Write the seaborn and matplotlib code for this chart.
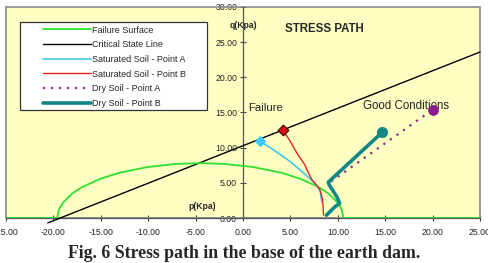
import matplotlib
matplotlib.use("Agg")
import matplotlib.pyplot as plt
import seaborn as sns
from matplotlib.patches import Rectangle

sns.set_style("white")
plt.rcParams["font.family"] = ["Liberation Sans", "DejaVu Sans"]

# failure surface
fail_p = [-25.0, -19.6, -19.4, -19.0, -18.0, -17.0, -15.0, -13.0, -10.0, -7.0, -4.5,
          -2.0, 1.0, 4.0, 6.0, 8.0, 9.0, 10.0, 10.4, 10.6, 25.0]
fail_q = [0.0, 0.0, 1.27, 2.18, 3.49, 4.38, 5.60, 6.45, 7.26, 7.69, 7.80,
          7.69, 7.26, 6.45, 5.60, 4.38, 3.49, 2.18, 1.27, 0.0, 0.0]

# critical state line
csl_p = [-20.6, 25.0]
csl_q = [-0.7, 23.6]

# saturated soil
satA_p = [1.8, 3.0, 4.9, 6.4, 7.2, 7.8, 8.15, 8.3]
satA_q = [10.9, 9.9, 8.1, 6.4, 5.4, 4.6, 3.8, 2.3]
satB_p = [4.2, 4.9, 5.7, 6.5, 7.05, 7.3, 8.1, 8.4, 8.5]
satB_q = [12.5, 11.1, 9.2, 7.6, 6.0, 5.4, 4.1, 2.6, 0.4]

# dry soil
dryA_p = [9.3, 20.0]
dryA_q = [5.2, 15.4]
dryB_p = [8.8, 9.7, 10.2, 9.9, 9.1, 9.0, 14.7]
dryB_q = [0.4, 1.6, 2.1, 3.0, 4.7, 5.1, 12.2]

ticks = [-25, -20, -15, -10, -5, 0, 5, 10, 15, 20, 25]
yticks = [0, 5, 10, 15, 20, 25, 30]

fig = plt.figure(figsize=(4.89, 2.63), dpi=100)
ax = fig.add_axes([0.0123, 0.1711, 0.9693, 0.8023])
ax.set_facecolor("#FFFFC4")

sns.lineplot(x=fail_p, y=fail_q, sort=False, estimator=None, color="#2EE02E", lw=1.3,
             label="Failure Surface", ax=ax, zorder=4)
sns.lineplot(x=csl_p, y=csl_q, sort=False, estimator=None, color="black", lw=1.0,
             label="Critical State Line", ax=ax, zorder=3)
ax.lines[-1].set_clip_on(False)
sns.lineplot(x=satA_p, y=satA_q, sort=False, estimator=None, color="#3CC8EE", lw=1.2,
             label="Saturated Soil - Point A", ax=ax, zorder=5)
sns.lineplot(x=satB_p, y=satB_q, sort=False, estimator=None, color="#E8231E", lw=1.0,
             label="Saturated Soil - Point B", ax=ax, zorder=5)
sns.lineplot(x=dryA_p, y=dryA_q, sort=False, estimator=None, color="#8E2A90", lw=1.6,
             ls=(0, (1, 2.6)), label="Dry Soil - Point A", ax=ax, zorder=5)
sns.lineplot(x=dryB_p, y=dryB_q, sort=False, estimator=None, color="#138686", lw=2.6,
             label="Dry Soil - Point B", ax=ax, zorder=6)

# end markers
sns.scatterplot(x=[satA_p[0]], y=[satA_q[0]], marker="D", s=30, color="#3CC8F8",
                edgecolor="#3CC8F8", ax=ax, zorder=7, legend=False)
sns.scatterplot(x=[satB_p[0]], y=[satB_q[0]], marker="D", s=30, color="#D81010",
                edgecolor="#400000", linewidth=0.8, ax=ax, zorder=7, legend=False)
sns.scatterplot(x=[dryB_p[-1]], y=[dryB_q[-1]], marker="o", s=55, color="#138686",
                edgecolor="#138686", ax=ax, zorder=7, legend=False)
sns.scatterplot(x=[dryA_p[-1]], y=[dryA_q[-1]], marker="o", s=50, color="#8E1A90",
                edgecolor="#8E1A90", ax=ax, zorder=7, legend=False)

ax.set_xlim(-25, 25)
ax.set_ylim(0, 30)
ax.set_xlabel("")
ax.set_ylabel("")

for s in ["top", "right"]:
    ax.spines[s].set_visible(False)
ax.spines["left"].set_position(("data", 0))
ax.spines["left"].set_color("#555555")
ax.spines["bottom"].set_color("#555555")
ax.spines["left"].set_linewidth(0.9)
ax.spines["bottom"].set_linewidth(0.9)
ax.add_patch(Rectangle((0, 0), 1, 1, transform=ax.transAxes, fill=False,
                       edgecolor="#8A8A8A", lw=1.2, clip_on=False, zorder=2))

ax.set_xticks(ticks)
ax.set_xticklabels([f"{t:.2f}" for t in ticks])
ax.set_yticks(yticks)
ax.set_yticklabels([f"{t:.2f}" for t in yticks])
ax.tick_params(axis="both", direction="inout", length=4.5, width=0.8, color="#444444",
               labelsize=6.3, labelcolor="#222222", pad=2)
ax.tick_params(axis="y", left=True)
ax.tick_params(axis="x", bottom=True, pad=5)

ax.text(4.4, 26.9, "STRESS PATH", fontsize=8.3, fontweight="bold", va="center", ha="left")
ax.text(0.5, 15.6, "Failure", fontsize=8.2, va="center", ha="left", color="#222222")
ax.text(12.7, 15.9, "Good Conditions", fontsize=8.3, va="center", ha="left",
        color="#222222", zorder=6)
ax.text(-1.4, 27.4, "q(Kpa)", fontsize=6.2, fontweight="bold", va="center", ha="left")
ax.text(-5.8, 1.7, "p(Kpa)", fontsize=6.2, fontweight="bold", va="center", ha="left")

# legend box
ax.add_patch(Rectangle((0.0295, 0.512), 0.395, 0.417, transform=ax.transAxes,
                       facecolor="white", edgecolor="#333333", lw=0.9, zorder=8))
leg = ax.legend(loc="upper left", bbox_to_anchor=(0.078, 0.912), frameon=False,
                fontsize=6.5, handlelength=5.3, handletextpad=0.15, labelspacing=0.63,
                borderpad=0, borderaxespad=0)
leg.set_zorder(9)

fig.text(0.5, 0.038, "Fig. 6 Stress path in the base of the earth dam.",
         family=["Liberation Serif", "DejaVu Serif"], fontweight="bold", fontsize=12.8,
         ha="center", va="center")

fig.savefig("out.png", dpi=100)
